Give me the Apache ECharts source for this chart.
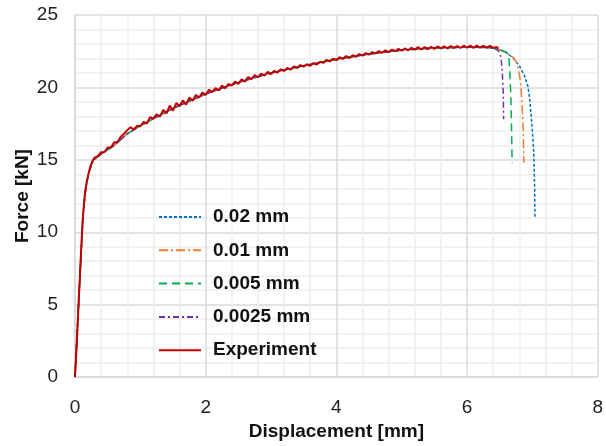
<!DOCTYPE html>
<html>
<head>
<meta charset="utf-8">
<script src="https://cdn.jsdelivr.net/npm/echarts@6/dist/echarts.min.js"></script>
<style>
  html, body { margin: 0; padding: 0; background: #fff; }
  #chart { width: 606px; height: 446px; }
</style>
</head>
<body>
<div id="chart"></div>
<script>
// force-displacement curves, values
var seriesNames = ['0.02 mm', '0.01 mm', '0.005 mm', '0.0025 mm', 'Experiment'];

// common part of the simulated curves (before failure)
var simBase = [
  [0, 0], [0.06, 5.5], [0.12, 11], [0.16, 12.9], [0.2, 13.9], [0.25, 14.7], [0.3, 15.05],
  [0.4, 15.4], [0.6, 16.0], [0.8, 16.8], [1.0, 17.35], [1.2, 17.85], [1.5, 18.55],
  [2.0, 19.55], [2.5, 20.35], [3.0, 21.0], [3.5, 21.5], [4.0, 21.95], [4.5, 22.3],
  [5.0, 22.58], [5.5, 22.72], [6.0, 22.78], [6.3, 22.76], [6.4, 22.72]
];
var tail002 = [[6.5, 22.6], [6.6, 22.4], [6.7, 22.05], [6.8, 21.5], [6.88, 20.8], [6.93, 20.1],
  [6.96, 19.2], [6.98, 18.1], [7.0, 17], [7.02, 15.6], [7.035, 13], [7.04, 11.0]];
var tail001 = [[6.5, 22.6], [6.6, 22.4], [6.7, 22.1], [6.75, 21.8], [6.79, 21.2], [6.82, 20.3],
  [6.84, 19.0], [6.86, 17], [6.87, 14.8]];
var tail0005 = [[6.5, 22.6], [6.6, 22.45], [6.64, 22.1], [6.655, 21.0], [6.67, 19.5],
  [6.68, 17.5], [6.69, 14.8]];
var tail00025 = [[6.48, 22.55], [6.52, 22.1], [6.54, 21.0], [6.555, 19.5], [6.56, 17.8]];

var experiment = [
  [0, 0], [0.03, 2.6], [0.06, 5.6], [0.09, 8.4], [0.12, 11.0], [0.15, 12.6], [0.18, 13.5],
  [0.21, 14.1], [0.24, 14.6], [0.27, 14.95],
  [0.30, 15.15], [0.35, 15.25], [0.40, 15.53], [0.45, 15.54], [0.50, 15.85], [0.55, 15.85],
  [0.60, 16.22], [0.65, 16.22], [0.70, 16.6], [0.75, 16.8], [0.80, 17.05], [0.85, 17.25],
  [0.90, 17.1], [0.95, 17.35], [1.00, 17.32], [1.05, 17.62], [1.10, 17.5], [1.15, 17.95],
  [1.20, 17.85], [1.25, 18.15], [1.30, 17.98], [1.35, 18.45], [1.40, 18.2], [1.45, 18.75],
  [1.50, 18.4], [1.55, 18.92], [1.60, 18.7], [1.65, 19.1], [1.70, 18.82], [1.75, 19.3],
  [1.80, 19.08], [1.85, 19.48], [1.90, 19.3], [1.95, 19.65], [2.00, 19.48], [2.05, 19.83],
  [2.10, 19.67], [2.15, 19.95], [2.20, 19.8], [2.25, 20.12], [2.30, 19.95], [2.35, 20.25],
  [2.40, 20.12], [2.45, 20.4], [2.50, 20.25], [2.55, 20.55], [2.60, 20.4], [2.65, 20.72],
  [2.70, 20.57], [2.75, 20.85], [2.80, 20.7], [2.85, 20.95], [2.90, 20.82], [2.95, 21.07],
  [3.00, 20.92], [3.05, 21.15], [3.10, 21.02], [3.15, 21.25], [3.20, 21.14], [3.25, 21.35],
  [3.30, 21.22], [3.35, 21.45], [3.40, 21.34], [3.45, 21.54], [3.50, 21.43], [3.55, 21.6],
  [3.60, 21.49], [3.65, 21.68], [3.70, 21.58], [3.75, 21.78], [3.80, 21.69], [3.85, 21.9],
  [3.90, 21.8], [3.95, 21.98], [4.00, 21.88], [4.05, 22.09], [4.10, 21.97], [4.15, 22.16],
  [4.20, 22.03], [4.25, 22.22], [4.30, 22.12], [4.35, 22.3], [4.40, 22.19], [4.45, 22.37],
  [4.50, 22.26], [4.55, 22.44], [4.60, 22.34], [4.65, 22.51], [4.70, 22.39], [4.75, 22.56],
  [4.80, 22.44], [4.85, 22.61], [4.90, 22.5], [4.95, 22.66], [5.00, 22.54], [5.05, 22.69],
  [5.10, 22.56], [5.15, 22.74], [5.20, 22.6], [5.25, 22.78], [5.30, 22.62], [5.35, 22.79],
  [5.40, 22.64], [5.45, 22.81], [5.50, 22.66], [5.55, 22.83], [5.60, 22.69], [5.65, 22.84],
  [5.70, 22.7], [5.75, 22.86], [5.80, 22.72], [5.85, 22.86], [5.90, 22.72], [5.95, 22.88],
  [6.00, 22.74], [6.05, 22.88], [6.10, 22.73], [6.15, 22.88], [6.20, 22.74], [6.25, 22.87],
  [6.30, 22.74], [6.35, 22.87], [6.40, 22.73], [6.45, 22.8], [6.48, 22.68]
];

var colors = ['#0070C0', '#ED7D31', '#00B050', '#7030A0', '#C00000'];
var dashes = [[3, 2], [9, 3, 2, 3], [8, 5], [6, 3, 2, 3], 'solid'];
var simData = [
  simBase.concat(tail002),
  simBase.concat(tail001),
  simBase.concat(tail0005),
  simBase.concat(tail00025),
  experiment
];

var FONT = '"Liberation Sans", Arial, sans-serif';

var myChart = echarts.init(document.getElementById('chart'));
var option = {
  animation: false,
  grid: { left: 75, right: 4, top: 15, bottom: 62 },
  legend: {
    orient: 'vertical',
    left: 153,
    top: 202,
    itemWidth: 42,
    itemHeight: 12,
    itemGap: 13.3,
    data: seriesNames,
    itemStyle: { opacity: 0 },
    textStyle: {
      fontFamily: FONT, fontSize: 19, fontWeight: 'bold', color: '#111',
      lineHeight: 20, padding: [0, 0, 0, 7]
    }
  },
  xAxis: {
    type: 'value', min: 0, max: 8, interval: 2,
    name: 'Displacement [mm]', nameLocation: 'middle', nameGap: 36,
    nameTextStyle: { fontFamily: FONT, fontSize: 19, fontWeight: 'bold', color: '#111' },
    axisLine: { show: true, lineStyle: { color: '#d9d9d9', width: 1.5 } },
    axisTick: { show: false },
    axisLabel: { fontFamily: FONT, fontSize: 19, color: '#222', margin: 21 },
    splitLine: { show: true, lineStyle: { color: '#d9d9d9', width: 1.5 } },
    minorTick: { show: false, splitNumber: 5 },
    minorSplitLine: { show: true, lineStyle: { color: '#eeeeee', width: 1.5 } }
  },
  yAxis: {
    type: 'value', min: 0, max: 25, interval: 5,
    name: 'Force [kN]', nameLocation: 'middle', nameGap: 43, nameMoveOverlap: false,
    nameTextStyle: { fontFamily: FONT, fontSize: 19, fontWeight: 'bold', color: '#111' },
    axisLine: { show: true, lineStyle: { color: '#d9d9d9', width: 1.5 } },
    axisTick: { show: false },
    axisLabel: { fontFamily: FONT, fontSize: 19, color: '#222', margin: 17 },
    splitLine: { show: true, lineStyle: { color: '#d9d9d9', width: 1.5 } },
    minorTick: { show: false, splitNumber: 5 },
    minorSplitLine: { show: true, lineStyle: { color: '#eeeeee', width: 1.5 } }
  },
  series: seriesNames.map(function (name, i) {
    return {
      name: name,
      type: 'line',
      data: simData[i],
      symbol: 'none',
      color: colors[i],
      lineStyle: { color: colors[i], width: i === 4 ? 2 : 1.5, type: dashes[i] },
      z: i === 4 ? 3 : 2
    };
  })
};
myChart.setOption(option);
</script>
</body>
</html>
